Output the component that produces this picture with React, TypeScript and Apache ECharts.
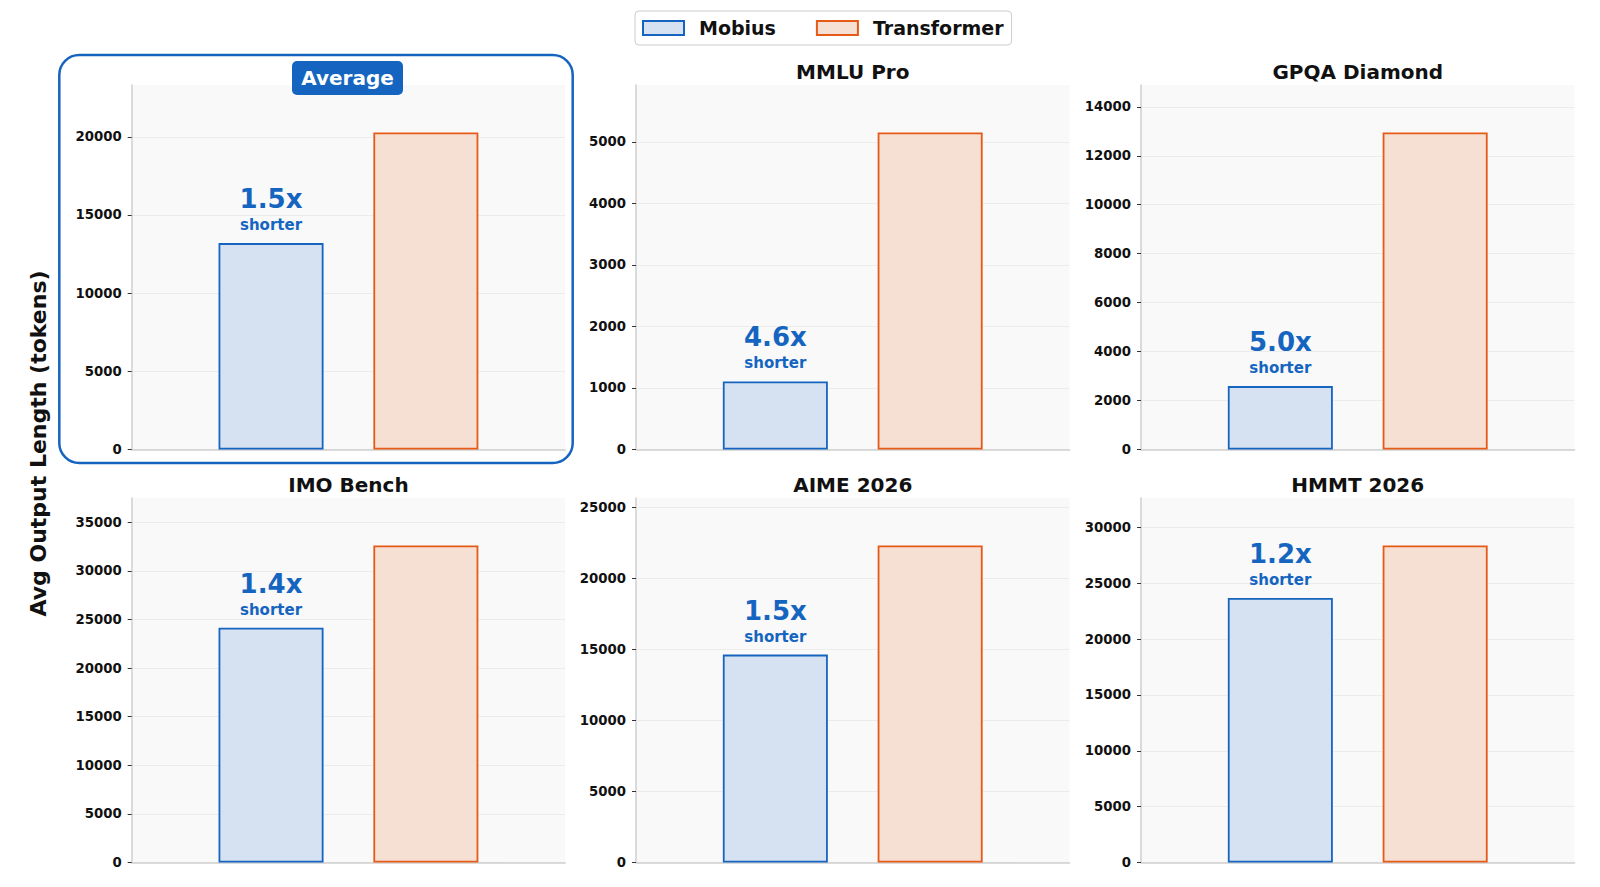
import React, { useEffect, useRef } from "react";
import * as echarts from "echarts";

// ---- data ----
const categories = ["Average", "MMLU Pro", "GPQA Diamond", "IMO Bench", "AIME 2026", "HMMT 2026"];
const mobius = [13200, 1105, 2590, 24150, 14640, 23680];
const transformer = [20270, 5150, 12950, 32600, 22320, 28380];
const speedupLabels = ["1.5x", "4.6x", "5.0x", "1.4x", "1.5x", "1.2x"];
const yTicks = [
  [0, 5000, 10000, 15000, 20000],
  [0, 1000, 2000, 3000, 4000, 5000],
  [0, 2000, 4000, 6000, 8000, 10000, 12000, 14000],
  [0, 5000, 10000, 15000, 20000, 25000, 30000, 35000],
  [0, 5000, 10000, 15000, 20000, 25000],
  [0, 5000, 10000, 15000, 20000, 25000, 30000],
];
const seriesNames = ["Mobius", "Transformer"];

// ---- style ----
const FONT = "'DejaVu Sans', 'Noto Sans', sans-serif";
const BLUE = "#1565C0";
const BLUE_FILL = "#d6e2f1";
const ORANGE = "#E65A17";
const ORANGE_FILL = "#f6e0d4";

const colLeft = [131.7, 636, 1141];
const rowTop = [85, 498];
const plotW = 433.5;
const plotH = 364.5;

function buildOption() {
  const grids: any[] = [];
  const xAxes: any[] = [];
  const yAxes: any[] = [];
  const series: any[] = [];
  const graphics: any[] = [];

  categories.forEach((cat, i) => {
    const r = Math.floor(i / 3);
    const c = i % 3;
    const left = colLeft[c];
    const top = rowTop[r];
    grids.push({
      left,
      top,
      width: plotW,
      height: plotH,
      show: true,
      backgroundColor: "#f9f9f9",
      borderWidth: 0,
      containLabel: false,
    });
    xAxes.push({
      type: "value",
      gridIndex: i,
      min: -0.9,
      max: 1.9,
      axisLine: { show: true, onZero: false, lineStyle: { color: "#cfcfcf", width: 1.5 } },
      axisTick: { show: false },
      axisLabel: { show: false },
      splitLine: { show: false },
    });
    const ticks = yTicks[i];
    yAxes.push({
      type: "value",
      gridIndex: i,
      min: 0,
      max: transformer[i] * 1.15,
      interval: ticks[1] - ticks[0],
      axisLine: { show: true, onZero: false, lineStyle: { color: "#cfcfcf", width: 1.5 } },
      axisTick: {
        show: true,
        length: 4,
        lineStyle: { color: "#333", width: 1 },
        customValues: ticks,
      },
      axisLabel: {
        show: true,
        margin: 10,
        color: "#111",
        fontFamily: FONT,
        fontWeight: "bold",
        fontSize: 13.3,
        customValues: ticks,
        formatter: (v: number) => String(v),
      },
      splitLine: { show: true, lineStyle: { color: "#ececec", width: 1 } },
    });
    series.push({
      name: seriesNames[0],
      type: "bar",
      xAxisIndex: i,
      yAxisIndex: i,
      barWidth: 105,
      barGap: "-100%",
      data: [[0, mobius[i]]],
      itemStyle: { color: BLUE_FILL, borderColor: BLUE, borderWidth: 1.8 },
      label: {
        show: true,
        position: "top",
        distance: 8,
        formatter: `{a|${speedupLabels[i]}}\n{b|shorter}`,
        rich: {
          a: { fontFamily: FONT, fontWeight: "bold", fontSize: 26, color: BLUE, lineHeight: 32, align: "center" },
          b: { fontFamily: FONT, fontWeight: "bold", fontSize: 15, color: BLUE, lineHeight: 20, align: "center" },
        },
      },
      emphasis: { disabled: true },
    });
    series.push({
      name: seriesNames[1],
      type: "bar",
      xAxisIndex: i,
      yAxisIndex: i,
      barWidth: 105,
      barGap: "-100%",
      data: [[1, transformer[i]]],
      itemStyle: { color: ORANGE_FILL, borderColor: ORANGE, borderWidth: 1.8 },
      emphasis: { disabled: true },
    });

    const cx = left + plotW / 2;
    if (i === 0) {
      graphics.push({
        type: "rect",
        shape: { x: 292, y: 61, width: 111, height: 34, r: 5 },
        style: { fill: BLUE },
        z: 10,
      });
      graphics.push({
        type: "text",
        x: 347.5,
        y: 78,
        style: {
          text: cat,
          fill: "#fff",
          font: `bold 20px ${FONT}`,
          textAlign: "center",
          textVerticalAlign: "middle",
        },
        z: 11,
      });
    } else {
      graphics.push({
        type: "text",
        x: cx,
        y: top - 13.5,
        style: {
          text: cat,
          fill: "#111",
          font: `bold 20px ${FONT}`,
          textAlign: "center",
          textVerticalAlign: "middle",
        },
        z: 11,
      });
    }
  });

  // highlight frame around the Average panel
  graphics.push({
    type: "rect",
    shape: { x: 59.3, y: 55, width: 513.4, height: 408, r: 20 },
    style: { fill: "none", stroke: BLUE, lineWidth: 2.5 },
    z: 5,
  });

  // shared y axis title
  graphics.push({
    type: "text",
    x: 38,
    y: 443.5,
    rotation: Math.PI / 2,
    style: {
      text: "Avg Output Length (tokens)",
      fill: "#111",
      font: `bold 22px ${FONT}`,
      textAlign: "center",
      textVerticalAlign: "middle",
    },
  });

  return {
    animation: false,
    backgroundColor: "#ffffff",
    grid: grids,
    xAxis: xAxes,
    yAxis: yAxes,
    series,
    graphic: graphics,
    legend: {
      left: 635,
      top: 11,
      orient: "horizontal",
      icon: "rect",
      itemWidth: 41,
      itemHeight: 14,
      itemGap: 40,
      padding: [6, 8, 6, 7],
      borderColor: "#cccccc",
      borderWidth: 1,
      borderRadius: 4,
      backgroundColor: "rgba(255,255,255,0.9)",
      selectedMode: false,
      textStyle: {
        fontFamily: FONT,
        fontWeight: "bold",
        fontSize: 19,
        color: "#111",
        lineHeight: 22,
        padding: [0, 0, 0, 10],
      },
      data: [
        { name: seriesNames[0], itemStyle: { color: BLUE_FILL, borderColor: BLUE, borderWidth: 2 } },
        { name: seriesNames[1], itemStyle: { color: ORANGE_FILL, borderColor: ORANGE, borderWidth: 2 } },
      ],
    },
  };
}

export default function App() {
  const ref = useRef<HTMLDivElement>(null);
  useEffect(() => {
    document.body.style.margin = "0";
    const chart = echarts.init(ref.current as HTMLDivElement, null, { renderer: "svg" });
    chart.setOption(buildOption() as any);
    return () => chart.dispose();
  }, []);
  return <div ref={ref} style={{ width: 1600, height: 887 }} />;
}
